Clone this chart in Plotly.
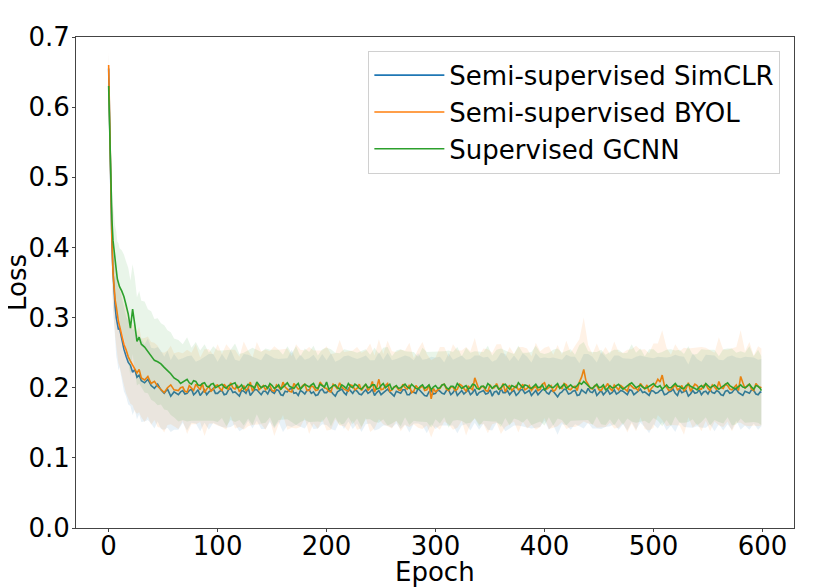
import numpy as np
import plotly.graph_objects as go

epochs_early = [0, 1, 2, 3, 4, 5, 6, 7, 8, 9, 10, 12, 14, 16, 18, 20, 22, 24, 26, 28,
                30, 33, 36, 39, 42, 45, 48, 51, 54, 57, 60]
epochs_tail = list(range(64, 597, 4)) + [599]
epochs_mid = list(range(66, 599, 4))

# mean loss per series
simclr_early = [0.655, 0.555, 0.485, 0.405, 0.365, 0.335, 0.315, 0.300, 0.292, 0.283,
                0.285, 0.268, 0.255, 0.245, 0.236, 0.232, 0.222, 0.226, 0.215, 0.218,
                0.210, 0.207, 0.212, 0.203, 0.199, 0.205, 0.197, 0.192, 0.198, 0.188, 0.194]
simclr_tail = [
    0.190, 0.196, 0.192, 0.198, 0.193, 0.189, 0.197, 0.194, 0.199, 0.192,
    0.196, 0.191, 0.199, 0.194, 0.188, 0.195, 0.200, 0.193, 0.197, 0.190,
    0.195, 0.198, 0.192, 0.196, 0.189, 0.194, 0.199, 0.193, 0.196, 0.191,
    0.197, 0.194, 0.190, 0.198, 0.193, 0.195, 0.188, 0.196, 0.193, 0.199,
    0.192, 0.195, 0.190, 0.197, 0.194, 0.189, 0.196, 0.193, 0.198, 0.191,
    0.195, 0.192, 0.197, 0.190, 0.194, 0.199, 0.193, 0.188, 0.196, 0.192,
    0.195, 0.191, 0.197, 0.193, 0.189, 0.196, 0.194, 0.190, 0.198, 0.193,
    0.196, 0.192, 0.188, 0.195, 0.199, 0.193, 0.190, 0.196, 0.192, 0.197,
    0.194, 0.189, 0.196, 0.193, 0.198, 0.191, 0.195, 0.187, 0.194, 0.197,
    0.192, 0.196, 0.190, 0.195, 0.199, 0.193, 0.189, 0.196, 0.194, 0.191,
    0.197, 0.193, 0.195, 0.190, 0.196, 0.192, 0.198, 0.194, 0.189, 0.195,
    0.193, 0.197, 0.191, 0.195, 0.192, 0.198, 0.194, 0.188, 0.196, 0.193,
    0.190, 0.195, 0.197, 0.192, 0.194, 0.189, 0.196, 0.193, 0.198, 0.191,
    0.195, 0.192, 0.196, 0.190, 0.193]
simclr_mid = [
    0.194, 0.191, 0.196, 0.190, 0.197, 0.193, 0.190, 0.196, 0.192, 0.195,
    0.190, 0.197, 0.193, 0.191, 0.196, 0.192, 0.189, 0.197, 0.193, 0.195,
    0.191, 0.194, 0.197, 0.190, 0.195, 0.198, 0.192, 0.189, 0.194, 0.196,
    0.192, 0.189, 0.196, 0.193, 0.197, 0.191, 0.194, 0.198, 0.190, 0.195,
    0.197, 0.191, 0.194, 0.192, 0.198, 0.193, 0.190, 0.196, 0.194, 0.188,
    0.193, 0.197, 0.190, 0.195, 0.192, 0.196, 0.189, 0.194, 0.191, 0.197,
    0.192, 0.196, 0.190, 0.198, 0.193, 0.191, 0.197, 0.193, 0.189, 0.195,
    0.191, 0.197, 0.194, 0.190, 0.193, 0.196, 0.194, 0.189, 0.197, 0.192,
    0.196, 0.192, 0.190, 0.197, 0.193, 0.196, 0.190, 0.192, 0.198, 0.191,
    0.195, 0.189, 0.197, 0.192, 0.194, 0.198, 0.192, 0.190, 0.197, 0.193,
    0.191, 0.196, 0.192, 0.197, 0.190, 0.195, 0.193, 0.191, 0.196, 0.192,
    0.196, 0.190, 0.194, 0.198, 0.189, 0.193, 0.196, 0.191, 0.192, 0.197,
    0.194, 0.191, 0.193, 0.196, 0.190, 0.195, 0.192, 0.197, 0.193, 0.189,
    0.193, 0.197, 0.191, 0.194]

byol_early = [0.660, 0.560, 0.487, 0.411, 0.364, 0.340, 0.325, 0.316, 0.300, 0.294,
              0.288, 0.275, 0.262, 0.254, 0.244, 0.238, 0.232, 0.228, 0.221, 0.226,
              0.214, 0.211, 0.216, 0.206, 0.209, 0.202, 0.197, 0.193, 0.200, 0.204, 0.197]
byol_tail = [
    0.196, 0.201, 0.194, 0.199, 0.205, 0.197, 0.193, 0.202, 0.198, 0.204,
    0.196, 0.201, 0.207, 0.198, 0.194, 0.203, 0.199, 0.195, 0.206, 0.200,
    0.197, 0.203, 0.195, 0.201, 0.208, 0.198, 0.194, 0.202, 0.199, 0.205,
    0.196, 0.201, 0.197, 0.204, 0.199, 0.194, 0.202, 0.207, 0.198, 0.195,
    0.203, 0.199, 0.196, 0.205, 0.200, 0.194, 0.212, 0.198, 0.206, 0.197,
    0.202, 0.196, 0.200, 0.204, 0.195, 0.199, 0.203, 0.197, 0.184, 0.194,
    0.199, 0.205, 0.196, 0.201, 0.198, 0.203, 0.195, 0.200, 0.214, 0.197,
    0.202, 0.195, 0.199, 0.206, 0.198, 0.194, 0.203, 0.200, 0.197, 0.205,
    0.199, 0.196, 0.202, 0.198, 0.207, 0.200, 0.195, 0.203, 0.199, 0.204,
    0.197, 0.202, 0.208, 0.226, 0.205, 0.198, 0.203, 0.196, 0.201, 0.199,
    0.204, 0.197, 0.200, 0.195, 0.202, 0.199, 0.206, 0.198, 0.194, 0.203,
    0.212, 0.218, 0.201, 0.197, 0.204, 0.199, 0.195, 0.207, 0.200, 0.203,
    0.198, 0.205, 0.196, 0.201, 0.209, 0.199, 0.203, 0.197, 0.204, 0.216,
    0.199, 0.205, 0.196, 0.202, 0.201]
byol_mid = [
    0.200, 0.195, 0.203, 0.196, 0.200, 0.206, 0.198, 0.195, 0.203, 0.199,
    0.205, 0.197, 0.200, 0.204, 0.198, 0.196, 0.208, 0.201, 0.197, 0.203,
    0.201, 0.196, 0.204, 0.197, 0.201, 0.195, 0.206, 0.198, 0.203, 0.196,
    0.203, 0.196, 0.208, 0.200, 0.195, 0.205, 0.198, 0.201, 0.196, 0.204,
    0.197, 0.205, 0.201, 0.196, 0.209, 0.200, 0.197, 0.203, 0.195, 0.201,
    0.197, 0.205, 0.198, 0.193, 0.203, 0.200, 0.196, 0.204, 0.199, 0.197,
    0.204, 0.198, 0.201, 0.196, 0.205, 0.199, 0.202, 0.197, 0.205, 0.201,
    0.196, 0.204, 0.200, 0.198, 0.206, 0.201, 0.196, 0.203, 0.199, 0.197,
    0.203, 0.200, 0.196, 0.205, 0.198, 0.203, 0.197, 0.200, 0.206, 0.198,
    0.201, 0.196, 0.215, 0.210, 0.199, 0.203, 0.197, 0.201, 0.206, 0.196,
    0.200, 0.203, 0.197, 0.205, 0.199, 0.196, 0.202, 0.204, 0.199, 0.206,
    0.208, 0.203, 0.196, 0.201, 0.197, 0.203, 0.199, 0.195, 0.205, 0.198,
    0.203, 0.199, 0.204, 0.197, 0.200, 0.205, 0.198, 0.201, 0.196, 0.207,
    0.203, 0.198, 0.206, 0.200]

gcnn_early = [0.630, 0.560, 0.490, 0.440, 0.410, 0.392, 0.380, 0.368, 0.355, 0.350,
              0.344, 0.338, 0.330, 0.318, 0.305, 0.285, 0.312, 0.290, 0.266, 0.272,
              0.262, 0.258, 0.252, 0.246, 0.239, 0.237, 0.234, 0.229, 0.225, 0.220, 0.214]
gcnn_tail = [
    0.210, 0.208, 0.212, 0.205, 0.209, 0.203, 0.207, 0.201, 0.206, 0.202,
    0.205, 0.199, 0.204, 0.207, 0.201, 0.198, 0.205, 0.202, 0.208, 0.200,
    0.203, 0.206, 0.199, 0.204, 0.201, 0.207, 0.200, 0.203, 0.198, 0.205,
    0.201, 0.206, 0.199, 0.203, 0.208, 0.200, 0.204, 0.198, 0.202, 0.206,
    0.200, 0.203, 0.198, 0.205, 0.201, 0.204, 0.199, 0.206, 0.202, 0.197,
    0.203, 0.200, 0.205, 0.199, 0.202, 0.198, 0.204, 0.201, 0.197, 0.203,
    0.200, 0.205, 0.198, 0.202, 0.206, 0.199, 0.203, 0.200, 0.204, 0.198,
    0.202, 0.206, 0.199, 0.203, 0.200, 0.205, 0.198, 0.202, 0.207, 0.200,
    0.203, 0.199, 0.205, 0.201, 0.197, 0.204, 0.200, 0.206, 0.202, 0.199,
    0.204, 0.200, 0.207, 0.209, 0.203, 0.199, 0.205, 0.201, 0.197, 0.203,
    0.200, 0.205, 0.198, 0.203, 0.207, 0.200, 0.204, 0.199, 0.202, 0.206,
    0.201, 0.198, 0.204, 0.200, 0.206, 0.202, 0.199, 0.205, 0.201, 0.197,
    0.203, 0.206, 0.200, 0.204, 0.198, 0.202, 0.207, 0.201, 0.199, 0.204,
    0.200, 0.205, 0.198, 0.202, 0.196]
gcnn_mid = [
    0.206, 0.211, 0.207, 0.210, 0.204, 0.206, 0.202, 0.205, 0.200, 0.204,
    0.201, 0.203, 0.206, 0.200, 0.204, 0.201, 0.203, 0.199, 0.204, 0.202,
    0.199, 0.203, 0.201, 0.198, 0.205, 0.202, 0.199, 0.206, 0.201, 0.203,
    0.204, 0.200, 0.205, 0.201, 0.198, 0.203, 0.200, 0.204, 0.199, 0.202,
    0.205, 0.199, 0.202, 0.200, 0.204, 0.198, 0.203, 0.200, 0.205, 0.201,
    0.199, 0.203, 0.201, 0.205, 0.199, 0.202, 0.199, 0.204, 0.201, 0.199,
    0.204, 0.200, 0.202, 0.199, 0.203, 0.201, 0.198, 0.205, 0.199, 0.202,
    0.199, 0.203, 0.202, 0.198, 0.204, 0.201, 0.203, 0.200, 0.203, 0.204,
    0.200, 0.202, 0.200, 0.204, 0.200, 0.201, 0.203, 0.199, 0.205, 0.201,
    0.201, 0.203, 0.205, 0.206, 0.200, 0.202, 0.200, 0.204, 0.199, 0.200,
    0.203, 0.201, 0.200, 0.205, 0.203, 0.202, 0.201, 0.200, 0.204, 0.202,
    0.203, 0.201, 0.200, 0.203, 0.202, 0.199, 0.203, 0.202, 0.199, 0.201,
    0.200, 0.203, 0.202, 0.201, 0.200, 0.205, 0.203, 0.199, 0.202, 0.201,
    0.202, 0.201, 0.203, 0.199]

# standard deviation (shaded band) per series, at epochs_early + epochs_tail
simclr_std_early = [0.020, 0.030, 0.040, 0.045, 0.050, 0.050, 0.052, 0.055, 0.055, 0.058,
                    0.056, 0.058, 0.060, 0.057, 0.060, 0.058, 0.061, 0.057, 0.060, 0.056,
                    0.059, 0.055, 0.058, 0.054, 0.057, 0.053, 0.056, 0.052, 0.055, 0.051, 0.054]
simclr_std_tail = [
    0.050, 0.046, 0.053, 0.048, 0.044, 0.051, 0.047, 0.054, 0.049, 0.045,
    0.052, 0.048, 0.055, 0.046, 0.050, 0.053, 0.047, 0.051, 0.044, 0.049,
    0.054, 0.047, 0.050, 0.045, 0.052, 0.048, 0.055, 0.046, 0.051, 0.049,
    0.045, 0.053, 0.048, 0.050, 0.046, 0.054, 0.049, 0.044, 0.052, 0.047,
    0.051, 0.046, 0.053, 0.049, 0.045, 0.050, 0.055, 0.047, 0.052, 0.048,
    0.046, 0.051, 0.049, 0.054, 0.045, 0.050, 0.047, 0.053, 0.048, 0.051,
    0.049, 0.045, 0.052, 0.047, 0.054, 0.050, 0.046, 0.051, 0.048, 0.053,
    0.047, 0.052, 0.049, 0.045, 0.051, 0.055, 0.048, 0.050, 0.046, 0.052,
    0.050, 0.047, 0.053, 0.049, 0.045, 0.051, 0.048, 0.054, 0.046, 0.050,
    0.052, 0.048, 0.045, 0.053, 0.049, 0.051, 0.047, 0.055, 0.050, 0.046,
    0.049, 0.053, 0.047, 0.051, 0.045, 0.052, 0.048, 0.050, 0.054, 0.047,
    0.051, 0.046, 0.052, 0.049, 0.055, 0.047, 0.050, 0.045, 0.053, 0.048,
    0.047, 0.052, 0.049, 0.054, 0.046, 0.050, 0.048, 0.053, 0.045, 0.051,
    0.049, 0.052, 0.047, 0.050, 0.048]

byol_std_early = [0.020, 0.032, 0.042, 0.046, 0.050, 0.053, 0.051, 0.056, 0.054, 0.059,
                  0.057, 0.060, 0.058, 0.062, 0.059, 0.061, 0.057, 0.062, 0.058, 0.061,
                  0.056, 0.060, 0.057, 0.059, 0.055, 0.058, 0.054, 0.057, 0.053, 0.056, 0.052]
byol_std_tail = [
    0.055, 0.048, 0.060, 0.051, 0.057, 0.046, 0.062, 0.053, 0.049, 0.058,
    0.052, 0.061, 0.047, 0.056, 0.050, 0.063, 0.054, 0.048, 0.059, 0.052,
    0.057, 0.049, 0.064, 0.053, 0.047, 0.058, 0.051, 0.060, 0.055, 0.048,
    0.062, 0.052, 0.056, 0.049, 0.060, 0.054, 0.047, 0.061, 0.053, 0.057,
    0.050, 0.059, 0.054, 0.048, 0.063, 0.052, 0.057, 0.050, 0.061, 0.055,
    0.049, 0.058, 0.053, 0.060, 0.047, 0.056, 0.062, 0.051, 0.055, 0.049,
    0.059, 0.053, 0.048, 0.061, 0.055, 0.050, 0.063, 0.052, 0.057, 0.049,
    0.054, 0.060, 0.051, 0.056, 0.064, 0.050, 0.055, 0.048, 0.061, 0.053,
    0.057, 0.049, 0.062, 0.054, 0.050, 0.059, 0.052, 0.058, 0.048, 0.063,
    0.053, 0.058, 0.061, 0.074, 0.056, 0.050, 0.060, 0.052, 0.057, 0.049,
    0.062, 0.054, 0.050, 0.059, 0.053, 0.061, 0.048, 0.057, 0.055, 0.060,
    0.051, 0.064, 0.056, 0.050, 0.058, 0.053, 0.062, 0.049, 0.057, 0.054,
    0.060, 0.052, 0.058, 0.049, 0.063, 0.055, 0.051, 0.059, 0.054, 0.066,
    0.053, 0.060, 0.050, 0.057, 0.055]

gcnn_std_early = [0.020, 0.030, 0.040, 0.045, 0.050, 0.052, 0.050, 0.055, 0.053, 0.056,
                  0.055, 0.058, 0.060, 0.062, 0.066, 0.068, 0.064, 0.067, 0.063, 0.066,
                  0.062, 0.065, 0.060, 0.063, 0.059, 0.062, 0.058, 0.060, 0.057, 0.059, 0.056]
gcnn_std_tail = [
    0.058, 0.054, 0.060, 0.052, 0.056, 0.050, 0.055, 0.049, 0.053, 0.051,
    0.048, 0.054, 0.050, 0.056, 0.047, 0.052, 0.049, 0.055, 0.046, 0.051,
    0.053, 0.048, 0.055, 0.050, 0.046, 0.052, 0.049, 0.056, 0.047, 0.051,
    0.050, 0.054, 0.047, 0.052, 0.049, 0.055, 0.046, 0.051, 0.053, 0.048,
    0.052, 0.047, 0.054, 0.050, 0.046, 0.053, 0.049, 0.051, 0.056, 0.048,
    0.050, 0.055, 0.047, 0.052, 0.049, 0.046, 0.053, 0.050, 0.054, 0.048,
    0.051, 0.047, 0.055, 0.049, 0.052, 0.046, 0.054, 0.050, 0.048, 0.053,
    0.049, 0.054, 0.047, 0.051, 0.056, 0.048, 0.052, 0.046, 0.053, 0.050,
    0.047, 0.052, 0.055, 0.049, 0.051, 0.046, 0.054, 0.050, 0.048, 0.053,
    0.051, 0.047, 0.054, 0.056, 0.049, 0.052, 0.046, 0.053, 0.050, 0.048,
    0.054, 0.049, 0.051, 0.047, 0.055, 0.050, 0.052, 0.046, 0.053, 0.049,
    0.048, 0.053, 0.050, 0.055, 0.047, 0.052, 0.049, 0.054, 0.046, 0.051,
    0.052, 0.048, 0.054, 0.050, 0.047, 0.053, 0.049, 0.055, 0.051, 0.048,
    0.050, 0.054, 0.047, 0.052, 0.049]

band_epochs = np.array(epochs_early + epochs_tail)

series = [
    ('Semi-supervised SimCLR', simclr_early, simclr_tail, simclr_mid,
     simclr_std_early + simclr_std_tail, '#1f77b4', 'rgba(31,119,180,0.1)'),
    ('Semi-supervised BYOL', byol_early, byol_tail, byol_mid,
     byol_std_early + byol_std_tail, '#ff7f0e', 'rgba(255,127,14,0.1)'),
    ('Supervised GCNN', gcnn_early, gcnn_tail, gcnn_mid,
     gcnn_std_early + gcnn_std_tail, '#2ca02c', 'rgba(44,160,44,0.1)'),
]

fig = go.Figure()
for name, early, tail, mid, std, color, fill in series:
    band_mean = np.array(early + tail)
    std = np.array(std)
    pairs = sorted(zip(epochs_tail + epochs_mid, tail + mid))
    line_x = epochs_early + [p[0] for p in pairs]
    line_y = early + [p[1] for p in pairs]
    fig.add_trace(go.Scatter(x=band_epochs, y=band_mean - std, mode='lines', line=dict(width=0),
                             showlegend=False, hoverinfo='skip'))
    fig.add_trace(go.Scatter(x=band_epochs, y=band_mean + std, mode='lines', line=dict(width=0),
                             fill='tonexty', fillcolor=fill, showlegend=False, hoverinfo='skip'))
    fig.add_trace(go.Scatter(x=line_x, y=line_y, mode='lines', name=name,
                             line=dict(color=color, width=1.6)))

axis_style = dict(
    showline=True, linecolor='#444', linewidth=1, mirror=True,
    ticks='outside', ticklen=3, tickcolor='#444', showgrid=False, zeroline=False,
    tickfont=dict(size=26, color='black'), automargin=False,
)

# the page body adds an 8px offset, so margins are shifted to compensate
fig.update_layout(
    width=822, height=587,
    margin=dict(l=68, r=36, t=29, b=67),
    paper_bgcolor='white', plot_bgcolor='white',
    font=dict(family='DejaVu Sans', size=26, color='black'),
    xaxis=dict(range=[-29.95, 628.95], tickvals=[0, 100, 200, 300, 400, 500, 600],
               ticklabelstandoff=-8, **axis_style),
    yaxis=dict(range=[0, 0.7], dtick=0.1, tickformat='.1f', ticklabelstandoff=-3, **axis_style),
    legend=dict(x=0.981, y=0.972, xanchor='right', yanchor='top', traceorder='normal',
                bgcolor='rgba(255,255,255,0.8)', bordercolor='#d0d0d0', borderwidth=1,
                font=dict(size=26), itemwidth=70, tracegroupgap=0),
    annotations=[
        dict(text='Epoch', xref='paper', yref='paper', x=0.5, y=-0.09,
             xanchor='center', yanchor='middle', showarrow=False, font=dict(size=26)),
        dict(text='Loss', xref='paper', yref='paper', x=-0.083, y=0.5, textangle=-90,
             xanchor='center', yanchor='middle', showarrow=False, font=dict(size=26)),
    ],
)

fig.write_html("out.html")
